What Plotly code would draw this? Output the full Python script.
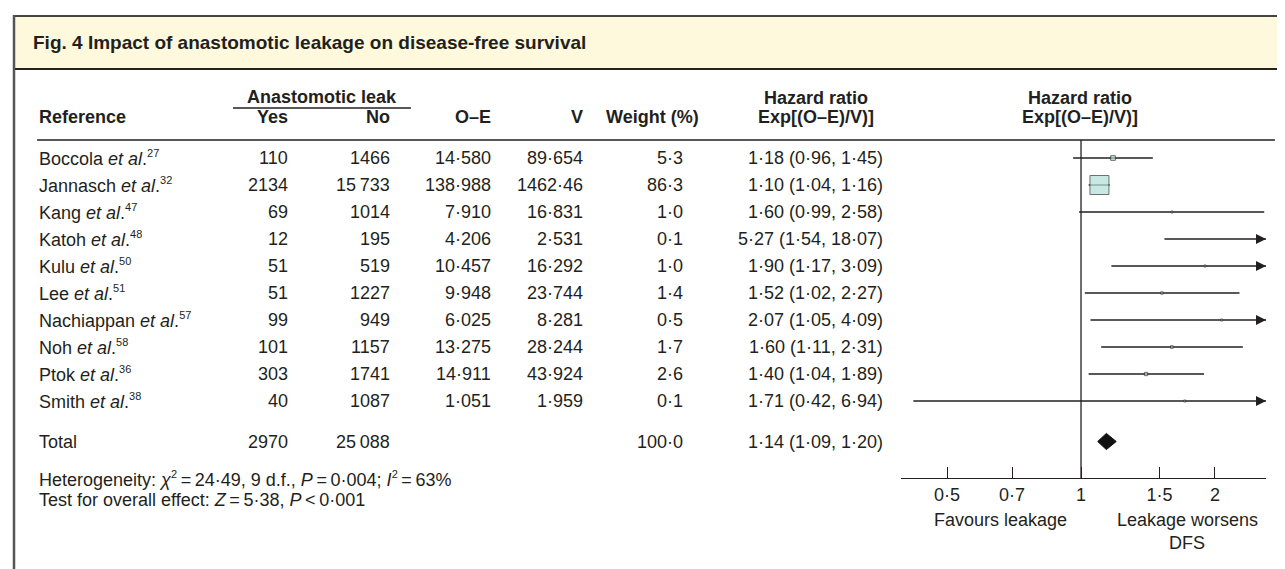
import numpy as np
import plotly.graph_objects as go

# table data
studies = ["Boccola", "Jannasch", "Kang", "Katoh", "Kulu", "Lee", "Nachiappan", "Noh", "Ptok", "Smith"]
ref_nums = [27, 32, 47, 48, 50, 51, 57, 58, 36, 38]
leak_yes = [110, 2134, 69, 12, 51, 51, 99, 101, 303, 40]
leak_no = [1466, 15733, 1014, 195, 519, 1227, 949, 1157, 1741, 1087]
o_minus_e = [14.580, 138.988, 7.910, 4.206, 10.457, 9.948, 6.025, 13.275, 14.911, 1.051]
variance = [89.654, 1462.46, 16.831, 2.531, 16.292, 23.744, 8.281, 28.244, 43.924, 1.959]
weight = [5.3, 86.3, 1.0, 0.1, 1.0, 1.4, 0.5, 1.7, 2.6, 0.1]
hr = [1.18, 1.10, 1.60, 5.27, 1.90, 1.52, 2.07, 1.60, 1.40, 1.71]
ci_lo = [0.96, 1.04, 0.99, 1.54, 1.17, 1.02, 1.05, 1.11, 1.04, 0.42]
ci_hi = [1.45, 1.16, 2.58, 18.07, 3.09, 2.27, 4.09, 2.31, 1.89, 6.94]

total_yes = 2970
total_no = 25088
total_weight = 100.0
total_hr = 1.14
total_lo = 1.09
total_hi = 1.20

tick_vals = [0.5, 0.7, 1, 1.5, 2]
tick_text = ["0·5", "0·7", "1", "1·5", "2"]

SUP = "<sup><span style='font-size:11px'>{}</span></sup>"
heterogeneity = ("Heterogeneity: <i>χ</i>" + SUP.format("2") + "\u2009=\u200924·49, 9 d.f., "
                 "<i>P</i>\u2009=\u20090·004; <i>I</i>" + SUP.format("2") + "\u2009=\u200963%")
overall = "Test for overall effect: <i>Z</i>\u2009=\u20095·38, <i>P</i>\u2009<\u20090·001"

XMIN, XMAX = 0.394, 2.604

# page geometry (pixels)
W, H = 1285, 569
ROW0, STEP = 150, 27
TOTAL_ROW = 10.5
FONT = "Liberation Sans, Arial, Helvetica, sans-serif"
INK = "#231f20"


def px(x):
    return x / W


def py(y):
    return 1 - y / H


def dot(v, nd):
    return f"{v:.{nd}f}".replace(".", "·")


def count(n):
    return f"{n:,}".replace(",", "\u2009") if n >= 10000 else str(n)


def fmt_v(v):
    return dot(v, 2) if v >= 1000 else dot(v, 3)


fig = go.Figure()

# CI lines (clipped at the axis end)
xs, ys = [], []
for i in range(len(studies)):
    xs += [ci_lo[i], min(ci_hi[i], XMAX), None]
    ys += [i, i, None]
fig.add_trace(go.Scatter(x=xs, y=ys, mode="lines", line=dict(color=INK, width=1.3),
                         hoverinfo="skip", showlegend=False))

# arrow heads where the interval runs off the axis
off = [i for i in range(len(studies)) if ci_hi[i] > XMAX]
fig.add_trace(go.Scatter(x=[XMAX] * len(off), y=off, mode="markers",
                         marker=dict(symbol="arrow-right", size=10, color=INK,
                                     line=dict(width=0)),
                         cliponaxis=False, hoverinfo="skip", showlegend=False))

# weighted squares
sizes = [max(19 * np.sqrt(w / 86.3), 2) for w in weight]
fig.add_trace(go.Scatter(x=hr, y=list(range(len(studies))), mode="markers",
                         marker=dict(symbol="square", size=sizes, color="#b2dfd8",
                                     line=dict(color="#333333", width=1)),
                         showlegend=False))

# pooled diamond
h = 0.3
fig.add_trace(go.Scatter(x=[total_lo, total_hr, total_hi, total_hr, total_lo],
                         y=[TOTAL_ROW, TOTAL_ROW - h, TOTAL_ROW, TOTAL_ROW + h, TOTAL_ROW],
                         mode="lines", fill="toself", fillcolor="#111111",
                         line=dict(color="#111111", width=1), showlegend=False))

ann = []


def txt(x, y, s, anchor="left", yref="paper", size=18, bold=False):
    ann.append(dict(x=px(x), y=y if yref == "y" else py(y), xref="paper", yref=yref,
                    text=s, showarrow=False, xanchor=anchor, yanchor="middle",
                    font=dict(family=FONT, size=size, color=INK,
                              weight="bold" if bold else "normal")))


# title
txt(23, 34, "Fig. 4 Impact of anastomotic leakage on disease-free survival", size=19, bold=True)

# headers
txt(314, 89, "Anastomotic leak", "center", bold=True)
txt(29, 109, "Reference", bold=True)
txt(282, 109, "Yes", "right", bold=True)
txt(384, 109, "No", "right", bold=True)
txt(485, 109, "O–E", "right", bold=True)
txt(577, 109, "V", "right", bold=True)
txt(644, 109, "Weight (%)", "center", bold=True)
txt(808, 90, "Hazard ratio", "center", bold=True)
txt(808, 109, "Exp[(O–E)/V)]", "center", bold=True)
txt(1072, 90, "Hazard ratio", "center", bold=True)
txt(1072, 109, "Exp[(O–E)/V)]", "center", bold=True)

# study rows
for i, name in enumerate(studies):
    txt(29, i, f"{name} <i>et al</i>." + SUP.format(ref_nums[i]), yref="y")
    txt(282, i, count(leak_yes[i]), "right", yref="y")
    txt(384, i, count(leak_no[i]), "right", yref="y")
    txt(485, i, dot(o_minus_e[i], 3), "right", yref="y")
    txt(577, i, fmt_v(variance[i]), "right", yref="y")
    txt(677, i, dot(weight[i], 1), "right", yref="y")
    txt(877, i, f"{dot(hr[i], 2)} ({dot(ci_lo[i], 2)}, {dot(ci_hi[i], 2)})", "right", yref="y")

# total row
txt(29, TOTAL_ROW, "Total", yref="y")
txt(282, TOTAL_ROW, count(total_yes), "right", yref="y")
txt(384, TOTAL_ROW, count(total_no), "right", yref="y")
txt(677, TOTAL_ROW, dot(total_weight, 1), "right", yref="y")
txt(877, TOTAL_ROW, f"{dot(total_hr, 2)} ({dot(total_lo, 2)}, {dot(total_hi, 2)})", "right", yref="y")

txt(29, 471, heterogeneity)
txt(29, 492, overall)

txt(992, 512, "Favours leakage", "center")
txt(1179, 512, "Leakage worsens", "center")
txt(1179, 535, "DFS", "center")

shapes = [
    dict(type="rect", xref="paper", yref="paper", x0=px(5), x1=1.01, y0=py(61), y1=py(8),
         fillcolor="#fef9dc", line=dict(width=0), layer="below"),
    dict(type="line", xref="paper", yref="paper", x0=px(5), x1=1.01, y0=py(8), y1=py(8),
         line=dict(color="#444444", width=2)),
    dict(type="line", xref="paper", yref="paper", x0=px(5), x1=1.01, y0=py(61), y1=py(61),
         line=dict(color="#222222", width=2)),
    dict(type="line", xref="paper", yref="paper", x0=px(6), x1=px(6), y0=py(7), y1=-0.01,
         line=dict(color="#555555", width=2.5)),
    dict(type="line", xref="paper", yref="paper", x0=px(225), x1=px(403), y0=py(100), y1=py(100),
         line=dict(color=INK, width=1.3)),
    dict(type="line", xref="paper", yref="paper", x0=px(29), x1=px(1267), y0=py(132), y1=py(132),
         line=dict(color=INK, width=1.3)),
    dict(type="line", xref="x", yref="y domain", x0=1, x1=1, y0=0, y1=1,
         line=dict(color=INK, width=1.3)),
]

fig.update_layout(
    width=W, height=H,
    margin=dict(l=0, r=0, t=0, b=0),
    paper_bgcolor="white", plot_bgcolor="rgba(0,0,0,0)",
    xaxis=dict(type="log", range=[np.log10(XMIN), np.log10(XMAX)],
               domain=[px(893), px(1258)], anchor="y",
               showline=True, linecolor=INK, linewidth=1.3,
               ticks="inside", ticklen=11, tickwidth=1.3, tickcolor=INK,
               tickvals=tick_vals, ticktext=tick_text,
               tickfont=dict(family=FONT, size=18, color=INK),
               showgrid=False, zeroline=False),
    yaxis=dict(domain=[py(470), py(132)],
               range=[(470 - ROW0) / STEP, (132 - ROW0) / STEP],
               visible=False, showgrid=False, zeroline=False),
    annotations=ann,
    shapes=shapes,
    showlegend=False,
)

fig.write_html("out.html")
